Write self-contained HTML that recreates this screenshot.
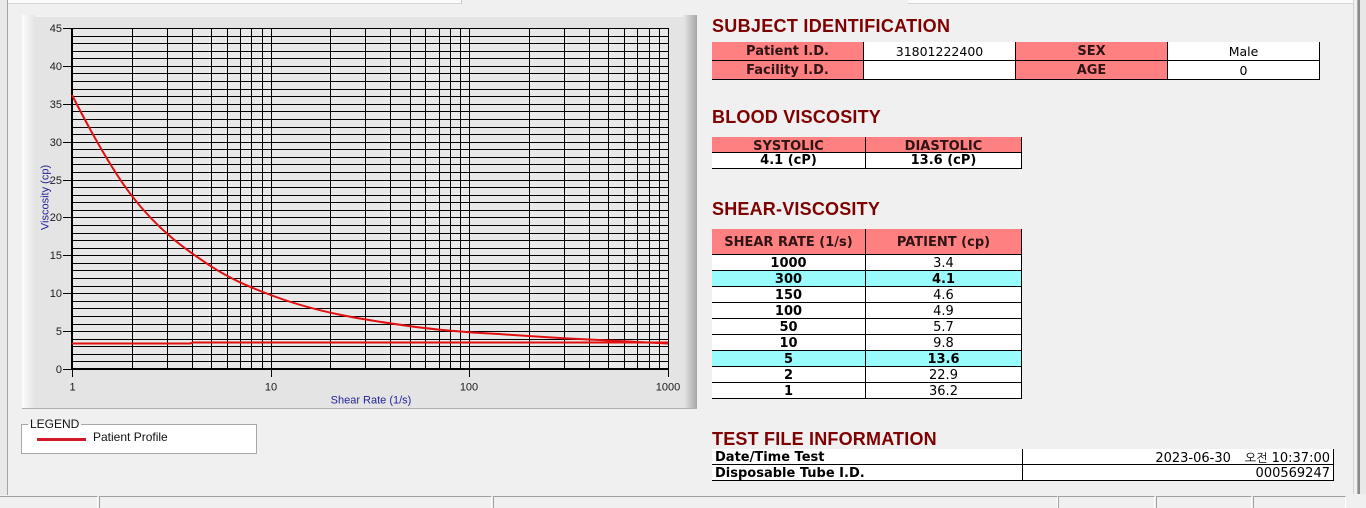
<!DOCTYPE html>
<html><head><meta charset="utf-8">
<style>
*{margin:0;padding:0;box-sizing:border-box}
html,body{width:1366px;height:508px;overflow:hidden;background:#f0f0f0;font-family:"Liberation Sans",Arial,sans-serif;position:relative}
.a{position:absolute}
.title{position:absolute;left:712px;font:bold 18px/18px "Liberation Sans",sans-serif;color:#7f0000;letter-spacing:0.2px;white-space:nowrap}
.c{position:absolute;border-right:1px solid #000;border-bottom:1px solid #000;text-align:center;white-space:nowrap;font-family:"DejaVu Sans","NanumGothic",sans-serif;font-size:13px;color:#000;overflow:hidden}
.p{background:#ff8080;font-weight:bold;color:#2e1414}
.w{background:#fff}
.cy{background:#99fbfb;font-weight:bold}
.b{font-weight:bold}
.sb{position:absolute;top:496px;height:12px;border-top:1px solid #a0a0a0;border-left:1px solid #a0a0a0;border-right:1px solid #fff}
.r{line-height:18px}
</style></head><body>

<!-- window edges -->
<div class="a" style="left:0;top:0;width:7px;height:495px;background:#e9e9e9"></div>
<div class="a" style="left:7px;top:0;width:1px;height:495px;background:#a4a4a4"></div>
<div class="a" style="left:8px;top:0;width:454px;height:4px;background:#fbfbfb;border-bottom:1px solid #d4d4d4;border-right:1px solid #c8c8c8"></div>
<div class="a" style="left:908px;top:0;width:446px;height:4px;background:#fbfbfb;border-bottom:1px solid #d4d4d4"></div>
<div class="a" style="left:1353px;top:0;width:1px;height:494px;background:#d6d6d6"></div>
<div class="a" style="left:1357px;top:0;width:1px;height:494px;background:#b0b0b0"></div>
<div class="a" style="left:1358px;top:0;width:2px;height:494px;background:#8a8a8a"></div>
<div class="a" style="left:1360px;top:0;width:6px;height:494px;background:#e8e8e8"></div>

<!-- chart panel -->
<div class="a" style="left:22px;top:15px;width:675px;height:394px;background:linear-gradient(to right,#fdfdfd 0px,#e4e4e4 13px,#e4e4e4 662px,#a6a6a6 675px);border-bottom:1px solid #b0b0b0"></div>
<div class="a" style="left:35px;top:15px;width:648px;height:2px;background:#f2f2f2"></div>

<svg class="a" style="left:0;top:0" width="700" height="420" xmlns="http://www.w3.org/2000/svg">
<rect x="72" y="28" width="596" height="341" fill="#e8e8e8"/>
<path shape-rendering="crispEdges" stroke="#000" stroke-width="1" fill="none" d="M72 36.5H668M72 43.5H668M72 51.5H668M72 58.5H668M72 66.5H668M72 73.5H668M72 81.5H668M72 89.5H668M72 96.5H668M72 104.5H668M72 111.5H668M72 119.5H668M72 127.5H668M72 134.5H668M72 142.5H668M72 149.5H668M72 157.5H668M72 164.5H668M72 172.5H668M72 180.5H668M72 187.5H668M72 195.5H668M72 202.5H668M72 210.5H668M72 217.5H668M72 225.5H668M72 233.5H668M72 240.5H668M72 248.5H668M72 255.5H668M72 263.5H668M72 270.5H668M72 278.5H668M72 286.5H668M72 293.5H668M72 301.5H668M72 308.5H668M72 316.5H668M72 324.5H668M72 331.5H668M72 339.5H668M72 346.5H668M72 354.5H668M72 361.5H668"/>
<path shape-rendering="crispEdges" stroke="#000" stroke-width="1" fill="none" d="M132.5 28V369M167.5 28V369M192.5 28V369M211.5 28V369M227.5 28V369M240.5 28V369M251.5 28V369M262.5 28V369M271.5 28V369M330.5 28V369M365.5 28V369M390.5 28V369M410.5 28V369M425.5 28V369M439.5 28V369M450.5 28V369M460.5 28V369M469.5 28V369M529.5 28V369M564.5 28V369M589.5 28V369M608.5 28V369M624.5 28V369M637.5 28V369M649.5 28V369M659.5 28V369M668.5 28V370M72 28.5H669"/>
<rect x="71" y="28" width="2" height="342" fill="#000" shape-rendering="crispEdges"/>
<rect x="71" y="368" width="598" height="2" fill="#000" shape-rendering="crispEdges"/>
<path shape-rendering="crispEdges" stroke="#000" stroke-width="1" d="M63 28.5H72M63 66.5H72M63 104.5H72M63 142.5H72M63 180.5H72M63 217.5H72M63 255.5H72M63 293.5H72M63 331.5H72M63 369.5H72M72.5 370V377M271.5 370V377M469.5 370V377M668.5 370V377"/>
<g font-family="Liberation Sans, Arial, sans-serif" font-size="11" fill="#1a1a1a" text-anchor="end">
<text x="62" y="32">45</text><text x="62" y="70">40</text><text x="62" y="108">35</text><text x="62" y="146">30</text><text x="62" y="184">25</text><text x="62" y="221">20</text><text x="62" y="259">15</text><text x="62" y="297">10</text><text x="62" y="335">5</text><text x="62" y="373">0</text>
</g>
<g font-family="Liberation Sans, Arial, sans-serif" font-size="11" fill="#1a1a1a" text-anchor="middle">
<text x="72.5" y="390.5">1</text><text x="271" y="390.5">10</text><text x="469" y="390.5">100</text><text x="668" y="390.5">1000</text>
</g>
<text x="371" y="403.5" text-anchor="middle" font-family="Liberation Sans, Arial, sans-serif" font-size="11" fill="#22229a">Shear Rate (1/s)</text>
<text transform="translate(48.5,197.5) rotate(-90)" text-anchor="middle" font-family="Liberation Sans, Arial, sans-serif" font-size="11" fill="#22229a">Viscosity (cp)</text>
<path fill="none" stroke="#e01010" stroke-width="2" d="M72,343.5 L190,343.5 L193,342.5 L668,342.5"/>
<path fill="none" stroke="#e01010" stroke-width="2" d="M72,95 C91.93,133.9 111.87,169.9 131.8,195.8 C158.17,230.1 184.53,248.9 210.9,266.2 C230.83,279.3 250.77,287.4 270.7,295 C316.97,312.6 363.23,319.7 409.5,326.1 C429.43,328.87 449.37,330.67 469.3,332.2 C480.97,333.1 492.63,333.66 504.3,334.4 C524.23,335.66 544.17,337.02 564.1,338.2 C598.73,340.24 633.37,341.94 668,343.5"/>
</svg>

<!-- legend -->
<div class="a" style="left:21px;top:424px;width:236px;height:30px;background:#fff;border:1px solid #a8a8a8"></div>
<div class="a" style="left:28px;top:417px;height:15px;line-height:15px;padding:0 2px;font-size:12px;color:#111;background:linear-gradient(#f0f0f0 7px,#fff 7px)">LEGEND</div>
<div class="a" style="left:37px;top:438px;width:49px;height:3px;background:#d01828"></div>
<div class="a" style="left:93px;top:430px;line-height:15px;font-size:12px;color:#111;white-space:nowrap">Patient Profile</div>

<!-- status bar -->
<div class="sb" style="left:0;width:98px;border-left:none"></div>
<div class="sb" style="left:99px;width:393px"></div>
<div class="sb" style="left:493px;width:565px"></div>
<div class="sb" style="left:1058px;width:97px"></div>
<div class="sb" style="left:1156px;width:96px"></div>
<div class="sb" style="left:1253px;width:93px"></div>

<!-- SUBJECT IDENTIFICATION -->
<div class="title" style="top:16.5px;letter-spacing:0.3px">SUBJECT IDENTIFICATION</div>
<div class="c p" style="left:712px;top:42px;width:152px;height:19px;line-height:20px">Patient I.D.</div>
<div class="c w" style="left:864px;top:42px;width:152px;height:19px;line-height:20px;font-size:12.5px">31801222400</div>
<div class="c p" style="left:1016px;top:42px;width:152px;height:19px;line-height:20px">SEX</div>
<div class="c w" style="left:1168px;top:42px;width:152px;height:19px;line-height:20px;font-size:12.5px">Male</div>
<div class="c p" style="left:712px;top:61px;width:152px;height:19px;line-height:20px">Facility I.D.</div>
<div class="c w" style="left:864px;top:61px;width:152px;height:19px;line-height:20px"></div>
<div class="c p" style="left:1016px;top:61px;width:152px;height:19px;line-height:20px">AGE</div>
<div class="c w" style="left:1168px;top:61px;width:152px;height:19px;line-height:20px;font-size:12.5px">0</div>

<!-- BLOOD VISCOSITY -->
<div class="title" style="top:107.5px">BLOOD VISCOSITY</div>
<div class="c p" style="left:712px;top:137px;width:154px;height:16px;line-height:19px">SYSTOLIC</div>
<div class="c p" style="left:866px;top:137px;width:156px;height:16px;line-height:19px">DIASTOLIC</div>
<div class="c w b" style="left:712px;top:153px;width:154px;height:16px;line-height:16px">4.1 (cP)</div>
<div class="c w b" style="left:866px;top:153px;width:156px;height:16px;line-height:16px">13.6 (cP)</div>

<!-- SHEAR-VISCOSITY -->
<div class="title" style="top:199.8px">SHEAR-VISCOSITY</div>
<div class="c p" style="left:712px;top:229px;width:154px;height:26px;line-height:28px">SHEAR RATE (1/s)</div>
<div class="c p" style="left:866px;top:229px;width:156px;height:26px;line-height:28px">PATIENT (cp)</div>

<div class="c w b r" style="left:712px;top:255px;width:154px;height:16px">1000</div>
<div class="c w r" style="left:866px;top:255px;width:156px;height:16px">3.4</div>
<div class="c cy r" style="left:712px;top:271px;width:154px;height:16px">300</div>
<div class="c cy r" style="left:866px;top:271px;width:156px;height:16px">4.1</div>
<div class="c w b r" style="left:712px;top:287px;width:154px;height:16px">150</div>
<div class="c w r" style="left:866px;top:287px;width:156px;height:16px">4.6</div>
<div class="c w b r" style="left:712px;top:303px;width:154px;height:16px">100</div>
<div class="c w r" style="left:866px;top:303px;width:156px;height:16px">4.9</div>
<div class="c w b r" style="left:712px;top:319px;width:154px;height:16px">50</div>
<div class="c w r" style="left:866px;top:319px;width:156px;height:16px">5.7</div>
<div class="c w b r" style="left:712px;top:335px;width:154px;height:16px">10</div>
<div class="c w r" style="left:866px;top:335px;width:156px;height:16px">9.8</div>
<div class="c cy r" style="left:712px;top:351px;width:154px;height:16px">5</div>
<div class="c cy r" style="left:866px;top:351px;width:156px;height:16px">13.6</div>
<div class="c w b r" style="left:712px;top:367px;width:154px;height:16px">2</div>
<div class="c w r" style="left:866px;top:367px;width:156px;height:16px">22.9</div>
<div class="c w b r" style="left:712px;top:383px;width:154px;height:16px">1</div>
<div class="c w r" style="left:866px;top:383px;width:156px;height:16px">36.2</div>

<!-- TEST FILE INFORMATION -->
<div class="title" style="top:430.1px">TEST FILE INFORMATION</div>
<div class="c w b" style="left:712px;top:449px;width:311px;height:16px;line-height:18px;text-align:left;padding-left:3px">Date/Time Test</div>
<div class="c w" style="left:1023px;top:449px;width:311px;height:16px;line-height:18px;text-align:right;padding-right:3px">2023-06-30<span style="margin-left:14px;font-size:12px;font-family:'NanumGothic','Noto Sans CJK KR',sans-serif">오전</span> 10:37:00</div>
<div class="c w b" style="left:712px;top:465px;width:311px;height:16px;line-height:17px;text-align:left;padding-left:3px">Disposable Tube I.D.</div>
<div class="c w" style="left:1023px;top:465px;width:311px;height:16px;line-height:17px;text-align:right;padding-right:3px">000569247</div>

</body></html>
